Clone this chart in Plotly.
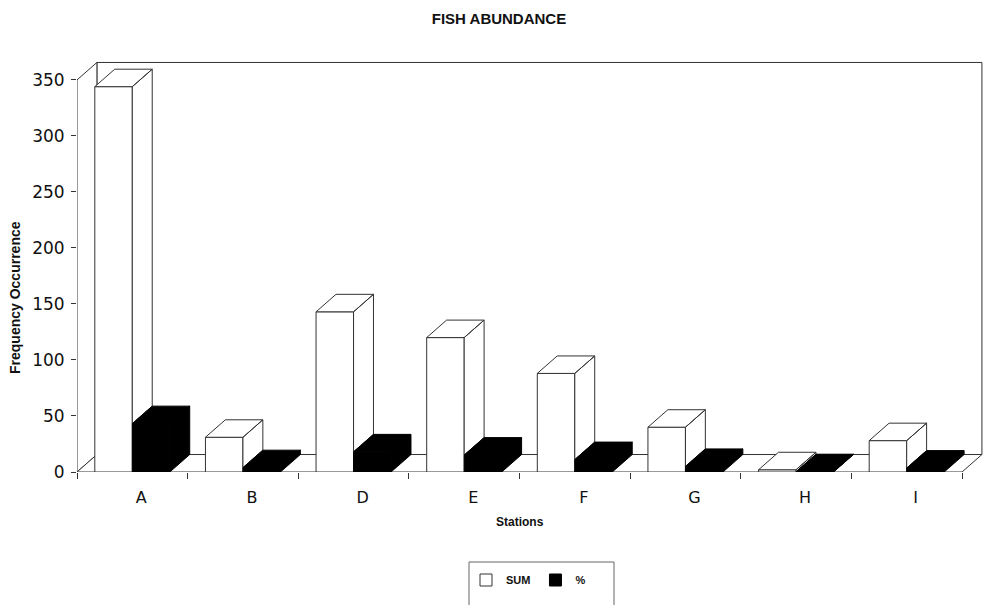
import plotly.graph_objects as go

# ---- data -------------------------------------------------------------
stations = ["A", "B", "D", "E", "F", "G", "H", "I"]
sum_values = [344, 31, 143, 120, 88, 40, 2, 28]
pct_values = [43.2, 3.9, 18.0, 15.1, 11.1, 5.0, 0.3, 3.5]
y_tick_values = [0, 50, 100, 150, 200, 250, 300, 350]

# ---- pseudo-3D geometry (axis units) ------------------------------------
BAR_GAP = 0.322
BAR_W = (1 - BAR_GAP) / 2
DX = 0.18        # sideways shift of the back plane, in category units
DY = 15.6        # upward shift of the back plane, in value units
Y_WALL = 350
EDGE = "#333333"

n = len(stations)
pos = list(range(n))
x_lo, x_hi = -0.5, n - 0.5
X_MAX = x_lo + 906 / 110.625
Y_MAX = 367.8


def add_poly(xs, ys, points):
    for px, py in points + [points[0]]:
        xs.append(px)
        ys.append(py)
    xs.append(None)
    ys.append(None)


# top and side faces of every column, computed from the values
white_x, white_y, black_x, black_y = [], [], [], []
for i, (s, p) in enumerate(zip(sum_values, pct_values)):
    a0, a1 = i - BAR_W, i          # SUM column
    b0, b1 = i, i + BAR_W          # % column
    add_poly(white_x, white_y,
             [(a0, s), (a1, s), (a1 + DX, s + DY), (a0 + DX, s + DY)])
    # side of the SUM column that rises above the neighbouring % column
    add_poly(white_x, white_y,
             [(a1, p), (a1, s), (a1 + DX, s + DY), (a1 + DX, p + DY)])
    add_poly(black_x, black_y,
             [(b0, p), (b1, p), (b1 + DX, p + DY), (b0 + DX, p + DY)])
    add_poly(black_x, black_y,
             [(b1, 0), (b1, p), (b1 + DX, p + DY), (b1 + DX, DY)])

fig = go.Figure()

fig.add_trace(go.Scatter(
    x=white_x, y=white_y, mode="lines", fill="toself", fillcolor="white",
    line=dict(color=EDGE, width=1), showlegend=False, hoverinfo="skip"))
fig.add_trace(go.Scatter(
    x=black_x, y=black_y, mode="lines", fill="toself", fillcolor="black",
    line=dict(color="black", width=1), showlegend=False, hoverinfo="skip"))

fig.add_trace(go.Bar(
    x=pos, y=sum_values, name="SUM",
    marker=dict(color="white", line=dict(color=EDGE, width=1))))
fig.add_trace(go.Bar(
    x=pos, y=pct_values, name="%",
    marker=dict(color="black", line=dict(color="black", width=1))))


def path(points):
    return "M " + " L ".join(f"{px},{py}" for px, py in points) + " Z"


wall_style = dict(type="path", xref="x", yref="y", layer="below",
                  fillcolor="white", line=dict(color=EDGE, width=1))
shapes = [
    # back wall
    dict(path=path([(x_lo + DX, DY), (x_hi + DX, DY),
                    (x_hi + DX, Y_WALL + DY), (x_lo + DX, Y_WALL + DY)]),
         **wall_style),
    # left wall
    dict(path=path([(x_lo, 0), (x_lo, Y_WALL),
                    (x_lo + DX, Y_WALL + DY), (x_lo + DX, DY)]),
         **wall_style),
    # floor
    dict(path=path([(x_lo, 0), (x_hi, 0), (x_hi + DX, DY), (x_lo + DX, DY)]),
         **wall_style),
    # legend frame
    dict(type="rect", xref="paper", yref="paper",
         x0=(469 - 77) / 906, x1=(614 - 77) / 906,
         y0=(472 - 562) / 412, y1=(472 - 620) / 412,
         line=dict(color="#666666", width=1), fillcolor="rgba(0,0,0,0)"),
]

tick_font = dict(family="DejaVu Sans", size=16, color="#111111")
label_font = dict(family="Liberation Sans", size=12, color="#111111",
                  weight="bold")

fig.update_layout(
    width=985, height=605,
    margin=dict(l=77, r=2, t=60, b=133),
    paper_bgcolor="white", plot_bgcolor="white",
    barmode="group", bargap=BAR_GAP, bargroupgap=0,
    hovermode=False,
    shapes=shapes,
    title=dict(text="FISH ABUNDANCE", x=499 / 985, xref="container",
               y=1 - 19 / 605, yref="container",
               xanchor="center", yanchor="middle",
               font=dict(family="Liberation Sans", size=15, color="#111111",
                         weight="bold")),
    xaxis=dict(
        range=[x_lo, X_MAX], showgrid=False, zeroline=False, showline=False,
        tickmode="array", tickvals=pos, ticktext=stations, ticks="",
        ticklabelshift=9, ticklabelstandoff=14, tickfont=tick_font,
        minor=dict(tickmode="array", tickvals=[x_lo + k for k in range(n + 1)],
                   ticks="outside", ticklen=6, tickcolor=EDGE, tickwidth=1,
                   showgrid=False),
    ),
    yaxis=dict(
        range=[0, Y_MAX], showgrid=False, zeroline=False, showline=False,
        tickmode="array", tickvals=y_tick_values, ticks="outside",
        ticklen=5, tickcolor=EDGE, tickwidth=1, ticklabelstandoff=3,
        tickfont=dict(family="DejaVu Sans", size=17, color="#111111"),
    ),
    legend=dict(orientation="h", x=(466 - 77) / 906, xanchor="left",
                y=(472 - 580) / 412, yanchor="middle",
                bgcolor="rgba(0,0,0,0)", borderwidth=0,
                font=dict(family="Liberation Sans", size=11, color="#111111",
                          weight="bold")),
    annotations=[
        dict(text="Frequency Occurrence", textangle=-90, showarrow=False,
             xref="paper", x=(15 - 77) / 906, xanchor="center",
             yref="paper", y=(472 - 298) / 412, yanchor="middle",
             font=dict(family="Liberation Sans", size=14, color="#111111",
                       weight="bold")),
        dict(text="Stations", showarrow=False,
             xref="paper", x=(520 - 77) / 906, xanchor="center",
             yref="paper", y=(472 - 522) / 412, yanchor="middle",
             font=label_font),
    ],
)

fig.write_html("out.html")
